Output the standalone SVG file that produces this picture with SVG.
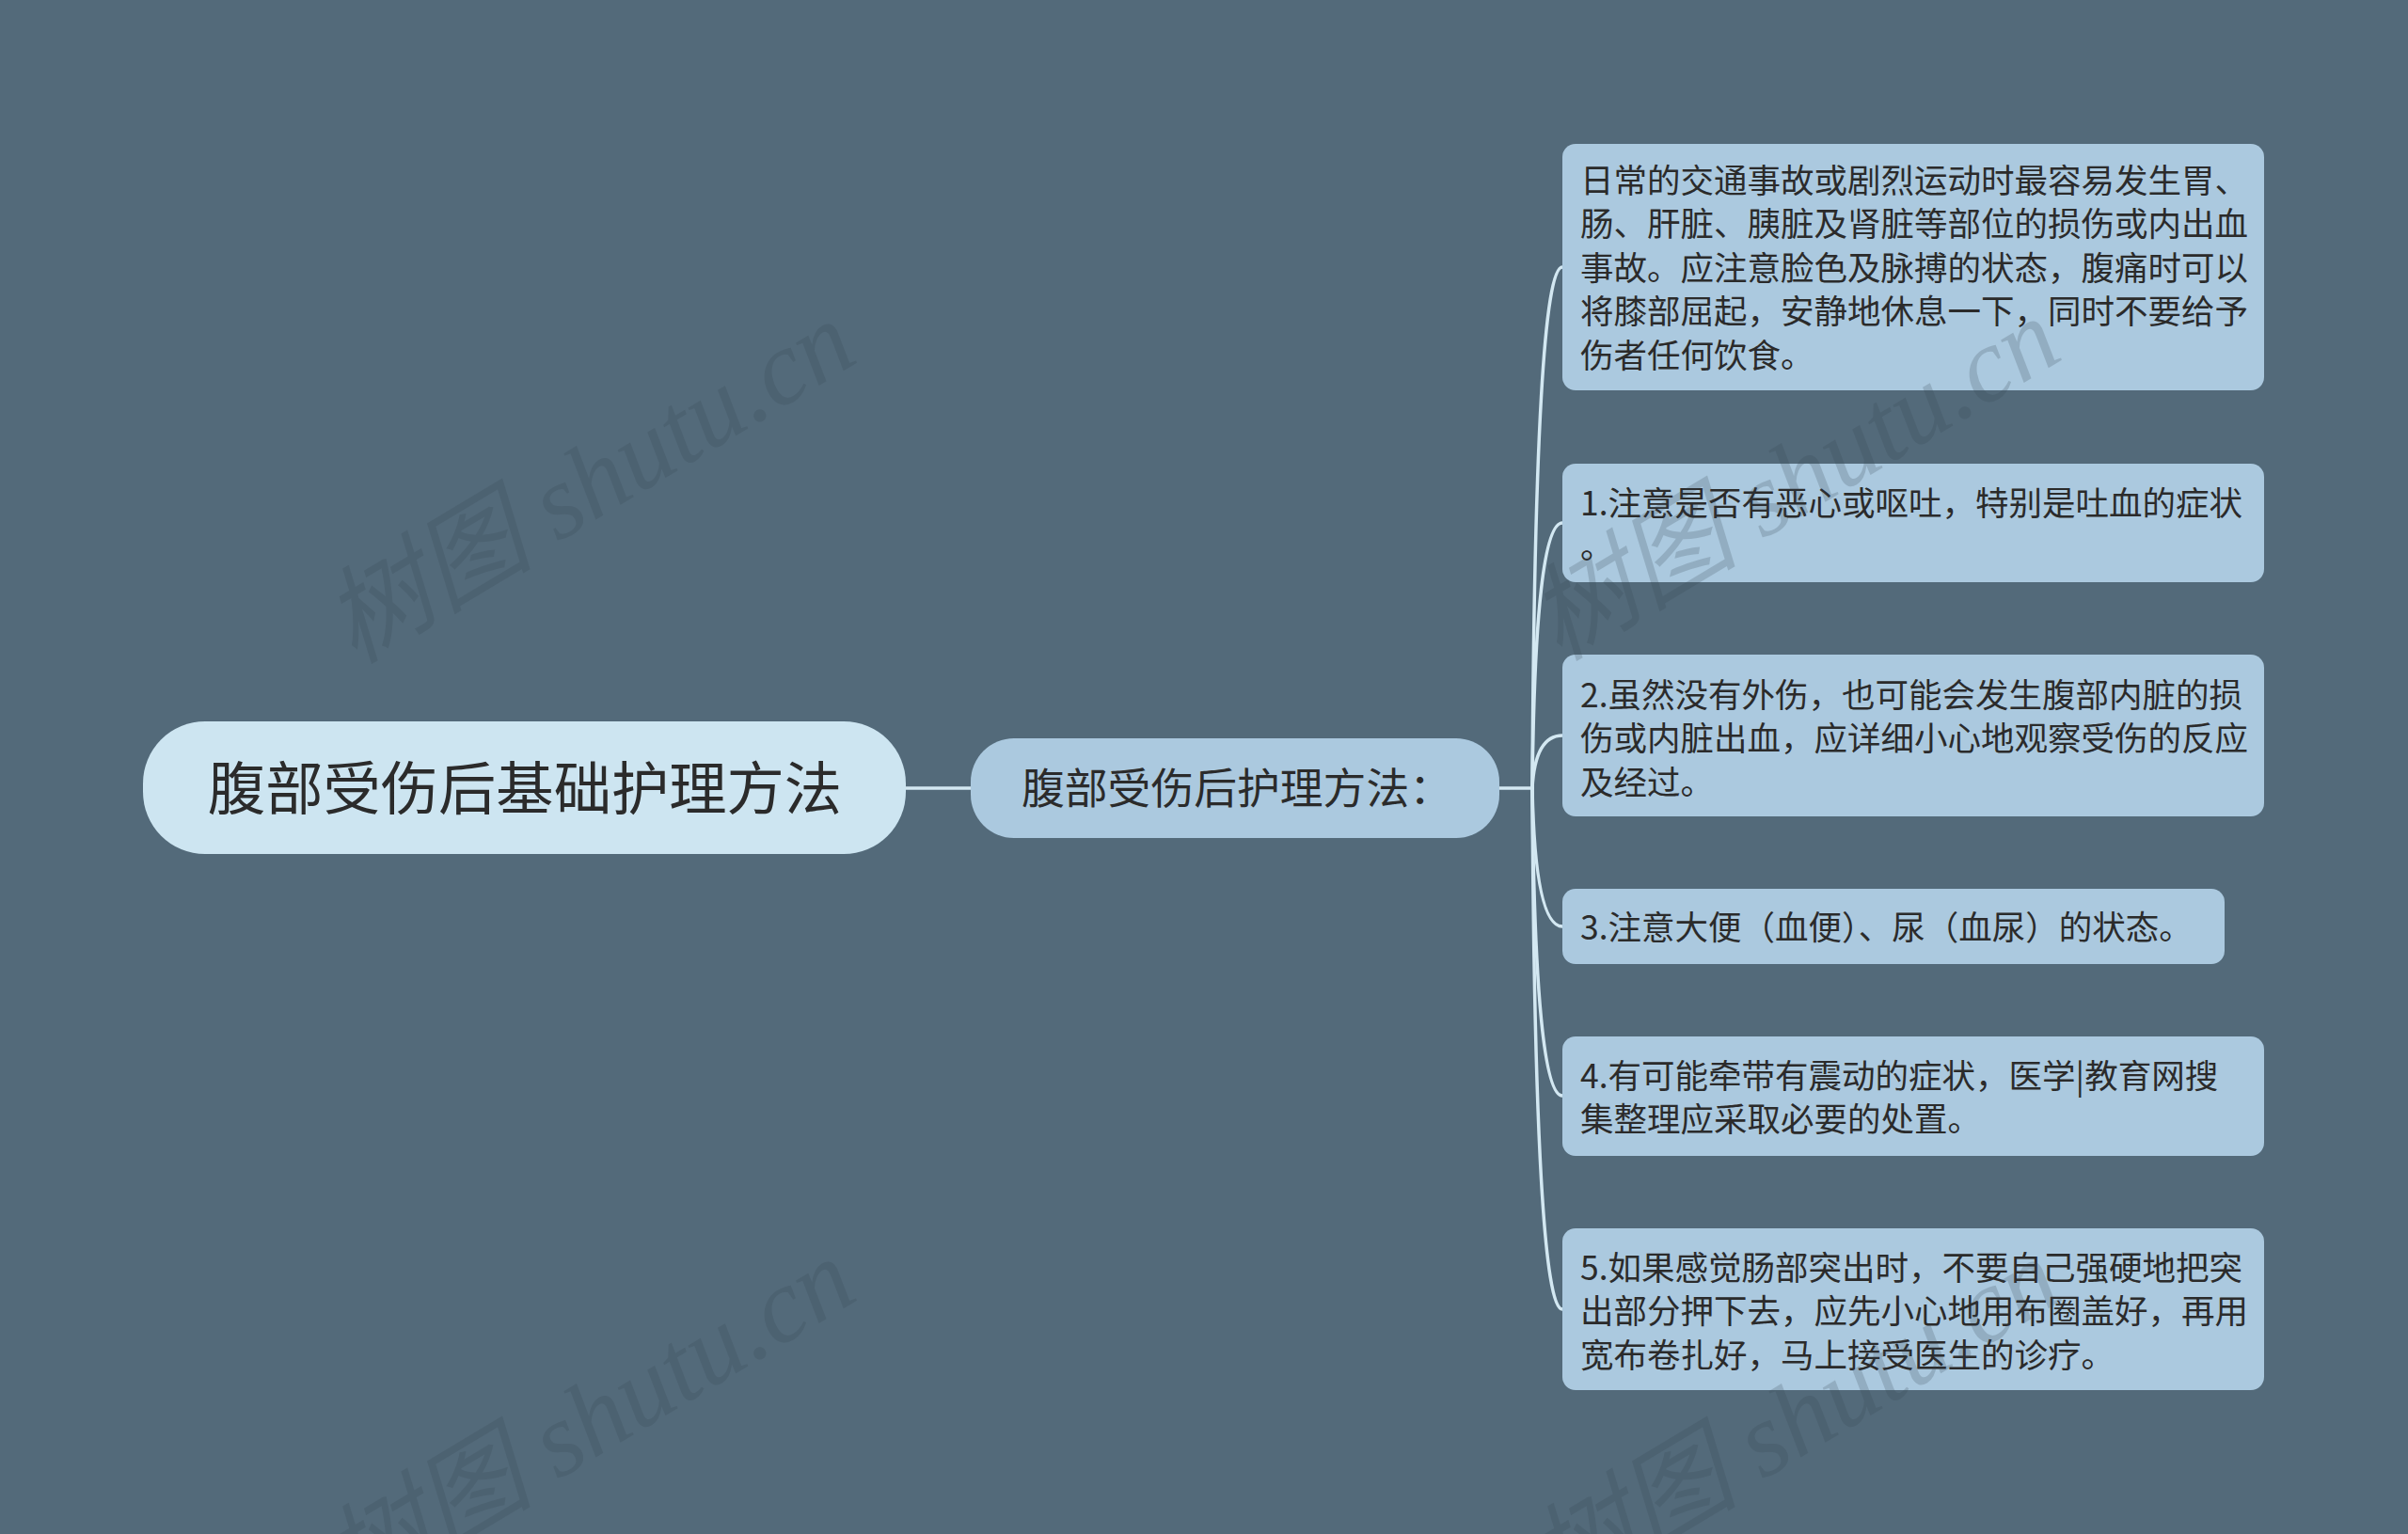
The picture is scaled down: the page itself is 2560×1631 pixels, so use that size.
<svg xmlns="http://www.w3.org/2000/svg" width="2560" height="1631" viewBox="0 0 2560 1631">
<style>
.bg{fill:#536a7a}
.root{fill:#cde5f1}
.sub{fill:#abc9df}
.leaf{fill:#abc9df}
.t{font-family:"Noto Sans CJK SC","Liberation Sans",sans-serif;fill:#2b2b2b;dominant-baseline:central}
.lt{font-size:35.5px}
.con{fill:none;stroke:#d3e8f2;stroke-width:3.5;stroke-linecap:round}
.wm{font-family:"Liberation Serif","Noto Sans CJK SC",serif;font-style:italic;font-size:112px;fill:#34434e;opacity:0.2}
</style>
<rect class="bg" x="0" y="0" width="2560" height="1631"/>
<g id="connectors">
<path class="con" d="M963 838 L1032 838"/>
<path class="con" d="M1594 838 L1629 838"/>
<path class="con" d="M1629 838 Q1632 284 1661 284"/>
<path class="con" d="M1629 838 Q1632 556 1661 556"/>
<path class="con" d="M1629 838 Q1632 782 1661 782"/>
<path class="con" d="M1629 838 Q1632 985 1661 985"/>
<path class="con" d="M1629 838 Q1632 1165 1661 1165"/>
<path class="con" d="M1629 838 Q1632 1392 1661 1392"/>
</g>
<g id="root">
<rect class="root" x="152" y="767" width="811" height="141" rx="66"/>
<text class="t" x="558" y="834" font-size="61.3" text-anchor="middle">腹部受伤后基础护理方法</text>
</g>
<g id="sub">
<rect class="sub" x="1032" y="785" width="562" height="106" rx="46"/>
<text class="t" x="1086" y="835" font-size="45.8">腹部受伤后护理方法：</text>
</g>
<g id="leaf1">
<rect class="leaf" x="1661" y="153" width="746" height="262" rx="14"/>
<text class="t lt" x="1680" y="189">日常的交通事故或剧烈运动时最容易发生胃、</text>
<text class="t lt" x="1680" y="235.5">肠、肝脏、胰脏及肾脏等部位的损伤或内出血</text>
<text class="t lt" x="1680" y="282">事故。应注意脸色及脉搏的状态，腹痛时可以</text>
<text class="t lt" x="1680" y="328.5">将膝部屈起，安静地休息一下，同时不要给予</text>
<text class="t lt" x="1680" y="375">伤者任何饮食。</text>
</g>
<g id="leaf2">
<rect class="leaf" x="1661" y="493" width="746" height="126" rx="14"/>
<text class="t lt" x="1680" y="532">1.注意是否有恶心或呕吐，特别是吐血的症状</text>
<text class="t lt" x="1680" y="578">。</text>
</g>
<g id="leaf3">
<rect class="leaf" x="1661" y="696" width="746" height="172" rx="14"/>
<text class="t lt" x="1680" y="736">2.虽然没有外伤，也可能会发生腹部内脏的损</text>
<text class="t lt" x="1680" y="782.5">伤或内脏出血，应详细小心地观察受伤的反应</text>
<text class="t lt" x="1680" y="829">及经过。</text>
</g>
<g id="leaf4">
<rect class="leaf" x="1661" y="945" width="704" height="80" rx="14"/>
<text class="t lt" x="1680" y="983">3.注意大便（血便）、尿（血尿）的状态。</text>
</g>
<g id="leaf5">
<rect class="leaf" x="1661" y="1102" width="746" height="127" rx="14"/>
<text class="t lt" x="1680" y="1141">4.有可能牵带有震动的症状，医学|教育网搜</text>
<text class="t lt" x="1680" y="1187.5">集整理应采取必要的处置。</text>
</g>
<g id="leaf6">
<rect class="leaf" x="1661" y="1306" width="746" height="172" rx="14"/>
<text class="t lt" x="1680" y="1345">5.如果感觉肠部突出时，不要自己强硬地把突</text>
<text class="t lt" x="1680" y="1391.5">出部分押下去，应先小心地用布圈盖好，再用</text>
<text class="t lt" x="1680" y="1438">宽布卷扎好，马上接受医生的诊疗。</text>
</g>
<g id="watermarks">
<text class="wm" text-anchor="middle" transform="translate(646 545) rotate(-31)">树图 shutu.cn</text>
<text class="wm" text-anchor="middle" transform="translate(1927 542) rotate(-31)">树图 shutu.cn</text>
<text class="wm" text-anchor="middle" transform="translate(646 1542) rotate(-31)">树图 shutu.cn</text>
<text class="wm" text-anchor="middle" transform="translate(1927 1542) rotate(-31)">树图 shutu.cn</text>
</g>
</svg>
